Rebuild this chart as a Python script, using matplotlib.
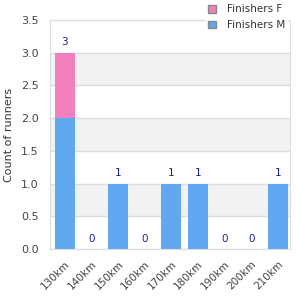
import numpy as np
import matplotlib.pyplot as plt
from matplotlib.patches import Patch

categories = ["130km", "140km", "150km", "160km", "170km", "180km", "190km", "200km", "210km"]
finishers_m = [2, 0, 1, 0, 1, 1, 0, 0, 1]
finishers_f = [1, 0, 0, 0, 0, 0, 0, 0, 0]
y_ticks = [0.0, 0.5, 1.0, 1.5, 2.0, 2.5, 3.0, 3.5]

col_m = "#60a8f2"
col_f = "#f47fbd"
txt = "#444444"

fig = plt.figure(figsize=(3, 3), dpi=100)
ax = fig.add_axes([50 / 300, 51 / 300, 240 / 300, 229 / 300])

x = np.arange(len(categories))
m = np.array(finishers_m)
f = np.array(finishers_f)

# bandas alternadas
for i in range(len(y_ticks) - 1):
    if i % 2 == 1:
        ax.axhspan(y_ticks[i], y_ticks[i + 1], color="#f2f2f2", zorder=0, lw=0)
for yt in y_ticks:
    ax.axhline(yt, color="#dddddd", lw=1, zorder=0.5)

ax.bar(x, m, width=0.75, color=col_m, zorder=2)
ax.bar(x, f, width=0.75, bottom=m, color=col_f, zorder=2)

for xi, tot in zip(x, m + f):
    ax.text(xi, tot + 0.08, str(int(tot)), ha="center", va="bottom", fontsize=7.5, color="#1f1f99")

ax.set_xlim(-0.56, len(categories) - 0.55)
ax.set_ylim(0, 3.5)
ax.set_yticks(y_ticks)
ax.set_yticklabels([f"{v:.1f}" for v in y_ticks], fontsize=8, color=txt)
ax.set_xticks(x)
ax.set_xticklabels(categories, rotation=45, ha="right", rotation_mode="anchor", fontsize=7.5, color=txt)
ax.tick_params(axis="y", length=0, pad=8)
ax.tick_params(axis="x", length=0, pad=7)
ax.set_ylabel("Count of runners", fontsize=8, color="#333333", labelpad=5)

for s in ["left", "right", "top", "bottom"]:
    ax.spines[s].set_color("#dddddd")

handles = [Patch(facecolor=col_f, edgecolor="#888888", label="Finishers F"),
           Patch(facecolor=col_m, edgecolor="#888888", label="Finishers M")]
leg = ax.legend(handles=handles, loc="upper right", bbox_to_anchor=(1.01, 1.1), fontsize=7.5,
                frameon=True, framealpha=1, edgecolor="white", fancybox=False,
                handlelength=0.8, handleheight=0.8, handletextpad=1.0, borderpad=0.2, labelspacing=0.55)
for t in leg.get_texts():
    t.set_color("#333333")

fig.savefig("out.png", dpi=100)
